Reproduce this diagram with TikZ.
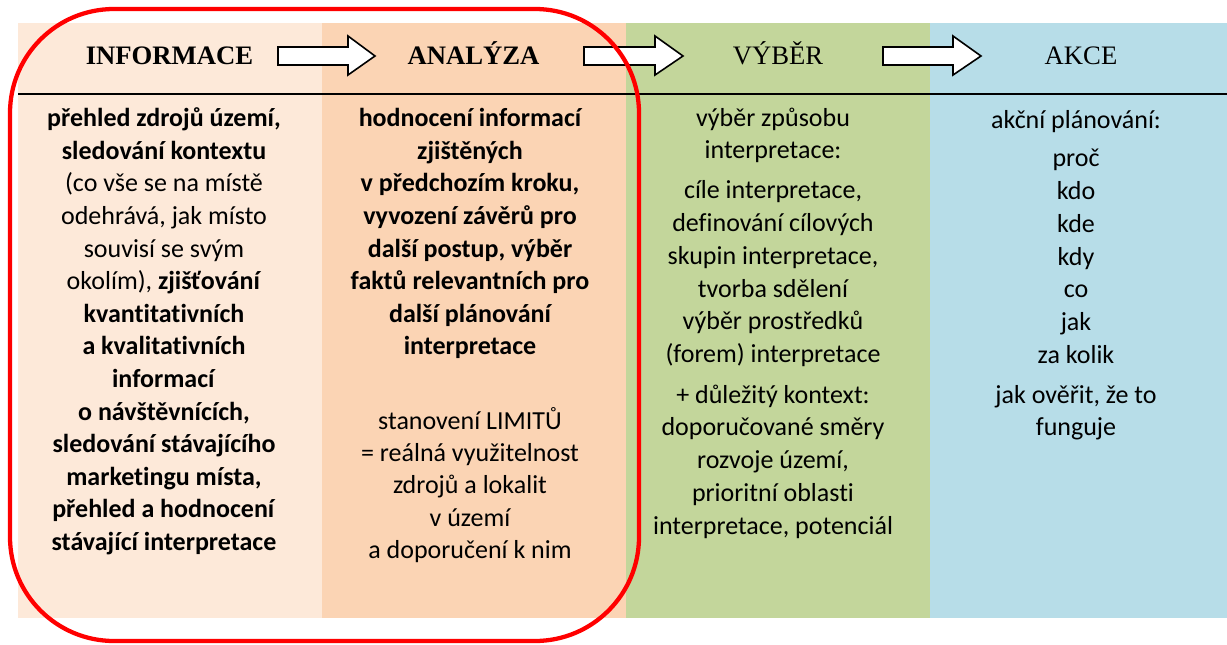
\documentclass[tikz,border=0pt]{standalone}
\usepackage{fontspec}
\setmainfont{Carlito}[Ligatures={NoCommon}]
\newfontfamily\headfont{Liberation Serif}
\definecolor{colA}{HTML}{FDE9D9}
\definecolor{colB}{HTML}{FBD4B4}
\definecolor{colC}{HTML}{C3D69B}
\definecolor{colD}{HTML}{B7DDE8}
\definecolor{frame}{HTML}{FF0000}
\begin{document}
\begin{tikzpicture}[x=0.75pt,y=-0.75pt,
  body/.style={font=\fontsize{19.5}{24}\selectfont, anchor=base, inner sep=0pt},
  head/.style={font=\headfont\fontsize{20}{24}\selectfont, anchor=base, inner sep=0pt},
  blockarrow/.style={draw=black, fill=white, line width=1.2pt, line join=miter}]
\useasboundingbox (0,0) rectangle (1227,645);
\fill[white] (0,0) rectangle (1227,645);
% column backgrounds
\fill[colA] (18,23) rectangle (322,618);
\fill[colB] (322,23) rectangle (626,618);
\fill[colC] (626,23) rectangle (930,618);
\fill[colD] (930,23) rectangle (1227,618);
% header rule
\draw[line width=1.5pt] (18,94) -- (1227,94);
% headers
\node[head] (h1) at (169.5,65) {\textbf{INFORMACE}};
\node[head] (h2) at (473.5,65) {\textbf{ANALÝZA}};
\node[head] (h3) at (778,65) {VÝBĚR};
\node[head] (h4) at (1081,65) {AKCE};
% arrows between headers
\foreach \xa/\xb/\xc [count=\k] in {278/348/375, 584/655/683, 883/953/981}
  \draw[blockarrow] (\xa,47) -- (\xb,47) -- (\xb,36) -- (\xc,56) -- (\xb,75) -- (\xb,65) -- (\xa,65) -- cycle;
% column 1
\foreach \t [count=\i from 0] in {
  {\textbf{přehled zdrojů území,}},
  {\textbf{sledování kontextu}},
  {(co vše se na místě},
  {odehrává, jak místo},
  {souvisí se svým},
  {okolím), \textbf{zjišťování}},
  {\textbf{kvantitativních}},
  {\textbf{a kvalitativních}},
  {\textbf{informací}},
  {\textbf{o návštěvnících,}},
  {\textbf{sledování stávajícího}},
  {\textbf{marketingu místa,}},
  {\textbf{přehled a hodnocení}},
  {\textbf{stávající interpretace}}}
  \node[body] (c1l\i) at (164,{126.7+\i*32.6}) {\t};
% column 2
\foreach \t [count=\i from 0] in {
  {hodnocení informací},
  {zjištěných},
  {v předchozím kroku,},
  {vyvození závěrů pro},
  {další postup, výběr},
  {faktů relevantních pro},
  {další plánování},
  {interpretace}}
  \node[body, font=\fontsize{19.5}{24}\selectfont\bfseries] (c2a\i) at (470,{126.7+\i*32.6}) {\t};
\foreach \t [count=\i from 0] in {
  {stanovení LIMITŮ},
  {= reálná využitelnost},
  {zdrojů a lokalit},
  {v území},
  {a doporučení k nim}}
  \node[body] (c2b\i) at (470,{429+\i*32.4}) {\t};
% column 3
\foreach \t [count=\i from 0] in {
  {výběr způsobu},
  {interpretace:}}
  \node[body] (c3a\i) at (773,{126.7+\i*32.3}) {\t};
\foreach \t [count=\i from 0] in {
  {cíle interpretace,},
  {definování cílových},
  {skupin interpretace,},
  {tvorba sdělení},
  {výběr prostředků},
  {(forem) interpretace}}
  \node[body] (c3b\i) at (773,{198.3+\i*32.9}) {\t};
\foreach \t [count=\i from 0] in {
  {+ důležitý kontext:},
  {doporučované směry},
  {rozvoje území,},
  {prioritní oblasti},
  {interpretace, potenciál}}
  \node[body] (c3c\i) at (773,{403+\i*32.75}) {\t};
% column 4
\node[body] (c4a) at (1076,128.3) {akční plánování:};
\foreach \t [count=\i from 0] in {proč, kdo, kde, kdy, co, jak, za kolik}
  \node[body] (c4b\i) at (1076,{167+\i*32.7}) {\t};
\node[body] (c4c0) at (1076,403) {jak ověřit, že to};
\node[body] (c4c1) at (1076,435) {funguje};
% red frame
\draw[frame, line width=3.2pt, rounded corners=78pt] (10,9) rectangle (639,641);
\end{tikzpicture}
\end{document}
